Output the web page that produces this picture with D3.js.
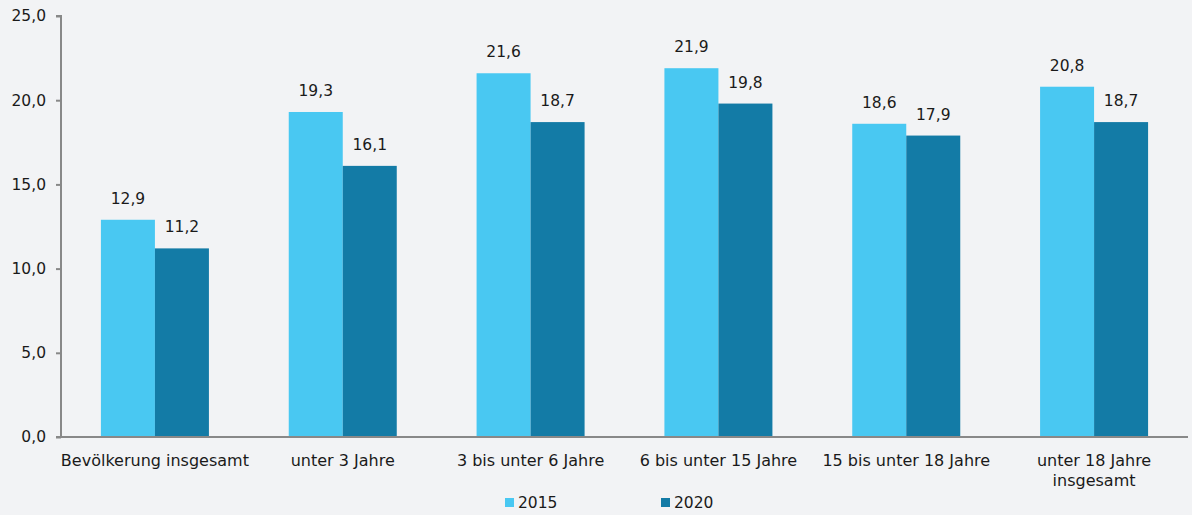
<!DOCTYPE html>
<html><head><meta charset="utf-8">
<script src="https://cdn.jsdelivr.net/npm/d3@7"></script>
<style>body{margin:0;background:#f2f3f5}svg{display:block}</style>
</head><body><svg id="c" width="1192" height="515"></svg>
<script>
const categories = [["Bevölkerung insgesamt"],["unter 3 Jahre"],["3 bis unter 6 Jahre"],["6 bis unter 15 Jahre"],["15 bis unter 18 Jahre"],["unter 18 Jahre","insgesamt"]];
const series = ["2015","2020"];
const values2015 = [12.9,19.3,21.6,21.9,18.6,20.8];
const values2020 = [11.2,16.1,18.7,19.8,17.9,18.7];
const yTicks = [0,5,10,15,20,25];
const colors = ["#49c8f2","#137ba6"];

const svg = d3.select("#c");
svg.append("rect").attr("width",1192).attr("height",515).attr("fill","#f2f3f5");
const font = "DejaVu Sans, Verdana, sans-serif";
const x0 = 61, x1 = 1188, yTop = 16, yBot = 437;
const x = d3.scaleBand().domain(d3.range(categories.length)).range([x0,x1]).paddingInner(0.425).paddingOuter(0.2125);
const xs = d3.scaleBand().domain(series).range([0,x.bandwidth()]);
const y = d3.scaleLinear().domain([0,25]).range([yBot,yTop]);
const fmt = v => d3.format(".1f")(v).replace(".",",");

const data = [values2015, values2020];
data.forEach((vals,si)=>{
  const g = svg.append("g");
  g.selectAll("rect").data(vals).join("rect")
    .attr("x",(d,i)=>x(i)+xs(series[si])).attr("width",xs.bandwidth())
    .attr("y",d=>y(d)).attr("height",d=>y(0)-y(d)).attr("fill",colors[si]);
  g.selectAll("text").data(vals).join("text")
    .attr("x",(d,i)=>x(i)+xs(series[si])+xs.bandwidth()/2).attr("y",d=>y(d)-16)
    .attr("text-anchor","middle").attr("font-family",font).attr("font-size",15.5).attr("fill","#1a1a1a")
    .text(d=>fmt(d));
});

// y axis
const ya = svg.append("g").attr("transform",`translate(${x0},0)`)
  .call(d3.axisLeft(y).tickValues(yTicks).tickFormat(fmt).tickSize(5).tickPadding(10));
ya.select(".domain").attr("stroke","#888").attr("stroke-width",2).attr("d",`M-5,${yTop}H0V${yBot}`);
ya.selectAll(".tick line").attr("stroke","#888").attr("stroke-width",2);
ya.selectAll("text").attr("font-family",font).attr("font-size",15.5).attr("fill","#1a1a1a");

// x baseline
svg.append("line").attr("x1",x0-5).attr("x2",x1).attr("y1",yBot).attr("y2",yBot).attr("stroke","#888").attr("stroke-width",2);

// category labels
const cl = svg.append("g");
categories.forEach((lines,i)=>{
  const t = cl.append("text").attr("x",x(i)+x.bandwidth()/2).attr("y",466)
    .attr("text-anchor","middle").attr("font-family",font).attr("font-size",16).attr("fill","#1a1a1a");
  lines.forEach((l,j)=>t.append("tspan").attr("x",x(i)+x.bandwidth()/2).attr("dy",j?20:0).text(l));
});

// legend
const legX = [505,661];
series.forEach((s,i)=>{
  svg.append("rect").attr("x",legX[i]).attr("y",498).attr("width",9).attr("height",9).attr("fill",colors[i]);
  svg.append("text").attr("x",legX[i]+13).attr("y",508).attr("font-family",font).attr("font-size",15.5).attr("fill","#1a1a1a").text(s);
});
</script></body></html>
